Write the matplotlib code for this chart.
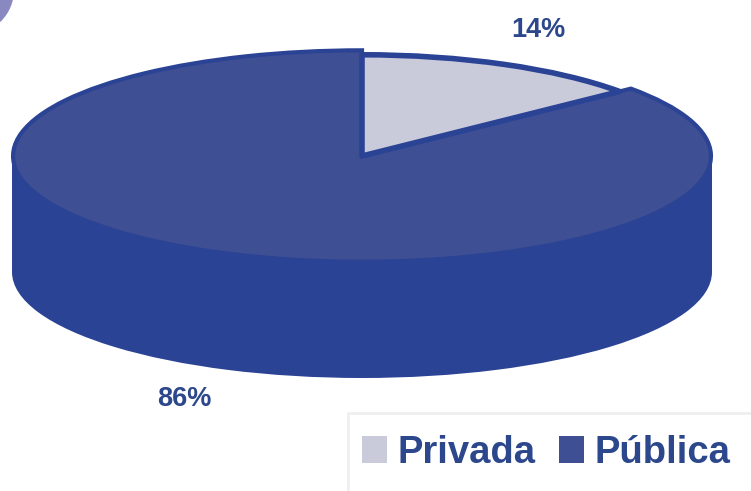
import matplotlib
matplotlib.use("Agg")
import matplotlib.pyplot as plt
from matplotlib.patches import Circle, Rectangle

labels = ['Privada', 'Pública']
values = [14, 86]
colors = ['#c9cbdb', '#3f4f93']
side_color = '#2b4394'
text_color = '#2c478c'
font = 'Liberation Sans'

W, H = 751, 491
cx, cy, rx, ry = 362, 156, 350, 106
depth = 116 / ry

fig = plt.figure(figsize=(W / 100, H / 100), dpi=100)

# ellipse = pie in an axes with unequal scales
ax = fig.add_axes([0, 0, 1, 1])
ax.pie([1], colors=[side_color], center=(0, -depth), radius=1, startangle=90)
ax.add_patch(Rectangle((-1, -depth), 2, depth, color=side_color, lw=0))
wedges, _ = ax.pie(values, colors=colors, startangle=90, counterclock=False,
                   radius=0.997, wedgeprops=dict(edgecolor=side_color, linewidth=3))
# grey slice sits slightly inside the rim, as in the 3d original
wedges[0].set_radius(0.955)
wedges[0].set_linewidth(4)
wedges[0].set_joinstyle('round')
wedges[0].set_zorder(wedges[1].get_zorder() + 1)
ax.set_aspect('auto')
ax.set_xlim(-cx / rx, (W - cx) / rx)
ax.set_ylim((cy - H) / ry, cy / ry)
ax.axis('off')

# overlay in pixel coordinates for labels, legend frame and corner
ov = fig.add_axes([0, 0, 1, 1], facecolor='none')
ov.set_xlim(0, W)
ov.set_ylim(H, 0)
ov.axis('off')
ov.add_patch(Circle((-30, -10), 44, color='#8a88c0', lw=0))
ov.plot([348, 348, W], [H, 413, 413], color='#efefef', lw=2)
ov.text(538, 30, f'{values[0]}%', color=text_color, family=font, weight='bold',
        fontsize=19.5, ha='center', va='center')
ov.text(184, 399, f'{values[1]}%', color=text_color, family=font, weight='bold',
        fontsize=19.5, ha='center', va='center')

leg = ov.legend(wedges, labels, ncol=2, frameon=False, loc='center left',
                bbox_to_anchor=(362, 453), bbox_transform=ov.transData,
                prop=dict(family=font, weight='bold', size=27.5),
                handlelength=0.65, handleheight=0.72, handletextpad=0.29,
                columnspacing=0.6, borderpad=0, borderaxespad=0)
for t in leg.get_texts():
    t.set_color(text_color)
for h in leg.legend_handles:
    h.set_edgecolor('none')
    h.set_linewidth(0)

fig.savefig('out.png', dpi=100)
